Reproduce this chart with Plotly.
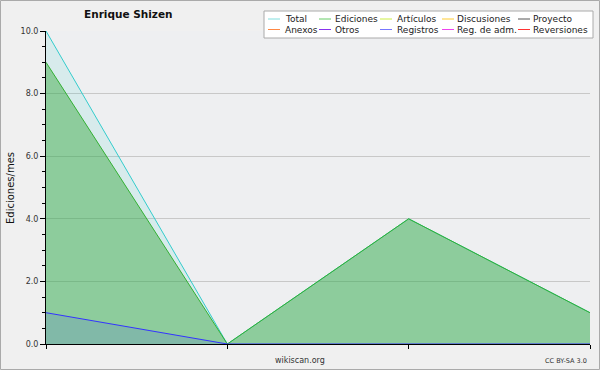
import plotly.graph_objects as go

# ---- data ----
months = [0, 1, 2, 3]
total = [10, 0, 4, 1]
ediciones = [9, 0, 4, 1]
registros = [1, 0, 0, 0]

legend_names = [["Total", "Ediciones", "Artículos", "Discusiones", "Proyecto"],
                ["Anexos", "Otros", "Registros", "Reg. de adm.", "Reversiones"]]
legend_colors = [["#80dede", "#66cc66", "#ccee44", "#ffcc33", "#555555"],
                 ["#ff8844", "#8833ee", "#7777ff", "#ee44ee", "#ff3333"]]

W, H = 600, 370
L, R, T, B = 46, 10, 31, 26
PW, PH = W - L - R, H - T - B


def px(x):
    return (x - L) / PW


def py(y):
    return (H - B - y) / PH


FONT = "DejaVu Sans"

fig = go.Figure()
fig.add_trace(go.Scatter(x=months, y=total, mode="lines", name="Total",
                         line=dict(color="#33cccc", width=1),
                         fill="tozeroy", fillcolor="rgba(51,204,204,0.12)",
                         showlegend=False))
fig.add_trace(go.Scatter(x=months, y=ediciones, mode="lines", name="Ediciones",
                         line=dict(color="#33b033", width=1),
                         fill="tozeroy", fillcolor="rgba(60,170,70,0.48)",
                         showlegend=False))
fig.add_trace(go.Scatter(x=months, y=registros, mode="lines", name="Registros",
                         line=dict(color="#3333ff", width=1),
                         fill="tozeroy", fillcolor="rgba(51,51,255,0.12)",
                         showlegend=False))

shapes = []
annotations = []

# outer border
shapes.append(dict(type="rect", xref="paper", yref="paper",
                   x0=px(0.5), x1=px(W - 0.5), y0=py(0.5), y1=py(H - 0.5),
                   line=dict(color="#aaaaaa", width=1), fillcolor="rgba(0,0,0,0)",
                   layer="above"))

# legend box
shapes.append(dict(type="rect", xref="paper", yref="paper",
                   x0=px(264), x1=px(593), y0=py(11), y1=py(38),
                   line=dict(color="#aaaaaa", width=1), fillcolor="white",
                   layer="above"))
line_x = [268, 319, 380, 442, 518]
text_x = [285, 335, 397, 457, 533]
row_y = [19, 29.5]
for r in range(2):
    for c in range(5):
        shapes.append(dict(type="line", xref="paper", yref="paper",
                           x0=px(line_x[c]), x1=px(line_x[c] + 12),
                           y0=py(row_y[r]), y1=py(row_y[r]),
                           line=dict(color=legend_colors[r][c], width=1),
                           layer="above"))
        annotations.append(dict(text=legend_names[r][c], xref="paper", yref="paper",
                                x=px(text_x[c] - 2), y=py(row_y[r]),
                                xanchor="left", yanchor="middle", showarrow=False,
                                font=dict(family=FONT, size=9, color="#222222")))

annotations.append(dict(text="<b>Enrique Shizen</b>", xref="paper", yref="paper",
                        x=px(128), y=py(14), xanchor="center", yanchor="middle",
                        showarrow=False, font=dict(family=FONT, size=10.5, color="#111111")))
annotations.append(dict(text="Ediciones/mes", xref="paper", yref="paper",
                        x=px(10), y=py(188), xanchor="center", yanchor="middle",
                        textangle=-90, showarrow=False,
                        font=dict(family=FONT, size=10, color="#111111")))
annotations.append(dict(text="wikiscan.org", xref="paper", yref="paper",
                        x=px(300), y=py(360), xanchor="center", yanchor="middle",
                        showarrow=False, font=dict(family=FONT, size=8, color="#333333")))
annotations.append(dict(text="CC BY-SA 3.0", xref="paper", yref="paper",
                        x=px(589), y=py(361), xanchor="right", yanchor="middle",
                        showarrow=False, font=dict(family=FONT, size=6.5, color="#333333")))

fig.update_layout(
    width=W, height=H,
    margin=dict(l=L, r=R, t=T, b=B, pad=0),
    paper_bgcolor="#f0f0f0", plot_bgcolor="#eeeff1",
    showlegend=False,
    shapes=shapes, annotations=annotations,
    xaxis=dict(range=[0, 3], tickvals=months, showticklabels=False,
               ticks="outside", ticklen=4, tickcolor="#000000",
               showline=True, linecolor="#000000", linewidth=1,
               showgrid=False, zeroline=False, fixedrange=True),
    yaxis=dict(range=[0, 10], tick0=0, dtick=2, tickformat=".1f",
               ticks="outside", ticklen=5, tickcolor="#000000",
               tickfont=dict(family=FONT, size=8, color="#333333"),
               showline=True, linecolor="#000000", linewidth=1,
               showgrid=True, gridcolor="#c8c8c8", gridwidth=1,
               zeroline=False,
               minor=dict(dtick=0.5, ticks="outside", ticklen=3,
                          tickcolor="#000000", showgrid=False)),
)

fig.write_html("out.html", config={"displayModeBar": False},
               post_script="document.body.style.margin='0';document.body.style.overflow='hidden';")
